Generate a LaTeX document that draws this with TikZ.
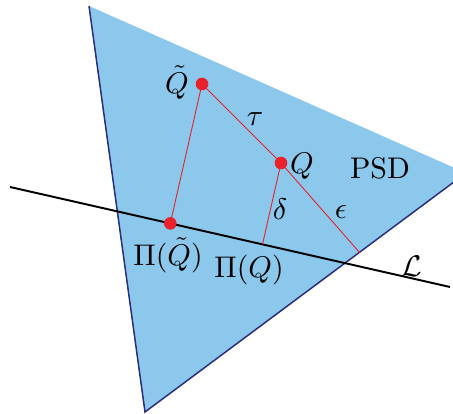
\documentclass[tikz,border=0pt]{standalone}
\usetikzlibrary{calc}
\definecolor{psdfill}{RGB}{139,200,236}
\definecolor{psdedge}{RGB}{42,46,125}
\definecolor{ptred}{RGB}{232,33,43}
\tikzset{
  edgeline/.style={draw=psdedge,line width=0.5bp},
  redline/.style={draw=ptred,line width=0.3bp},
  reddot/.style={fill=ptred},
  lbl/.style={inner sep=0pt,font=\fontsize{10}{12}\selectfont},
}
\begin{document}
\begin{tikzpicture}[x=0.33333bp,y=-0.33333bp]
\useasboundingbox (0,0) rectangle (453,414);
\clip (0,0) rectangle (453,414);
% triangle vertices
\coordinate (A) at (89,6);
\coordinate (B) at (145,412);
\coordinate (C) at (466,173);
\fill[psdfill] (A) -- (B) -- (C) -- cycle;
\draw[edgeline] (A) -- (B) -- (C);
% line L
\coordinate (L1) at (10,187);
\coordinate (L2) at (450,287);
\draw[line width=0.65bp] (L1) -- (L2);
% points
\coordinate (Qt) at (202,84);
\coordinate (Q) at (281,163);
\coordinate (PQt) at ($(L1)!(Qt)!(L2)$);
\coordinate (PQ) at ($(L1)!(Q)!(L2)$);
\coordinate (E) at (360,253);
\draw[redline] (Qt) -- (Q) -- (E);
\draw[redline] (Qt) -- (PQt);
\draw[redline] (Q) -- (PQ);
\fill[reddot] (Qt) circle (6.3);
\fill[reddot] (Q) circle (6.3);
\fill[reddot] (PQt) circle (6.3);
% labels
\node[lbl] (lQt) at (177,82.5) {$\tilde{Q}$};
\node[lbl] (ltau) at (255,119) {$\tau$};
\node[lbl] (lQ) at (302,166) {$Q$};
\node[lbl] (lpsd) at (380,168) {PSD};
\node[lbl] (ldelta) at (280,209) {$\delta$};
\node[lbl] (leps) at (341,212) {$\epsilon$};
\node[lbl] (lPQt) at (168,255.5) {$\Pi(\tilde{Q})$};
\node[lbl] (lPQ) at (249,270) {$\Pi(Q)$};
\node[lbl] (lL) at (412,266) {$\mathcal{L}$};
\end{tikzpicture}
\end{document}
